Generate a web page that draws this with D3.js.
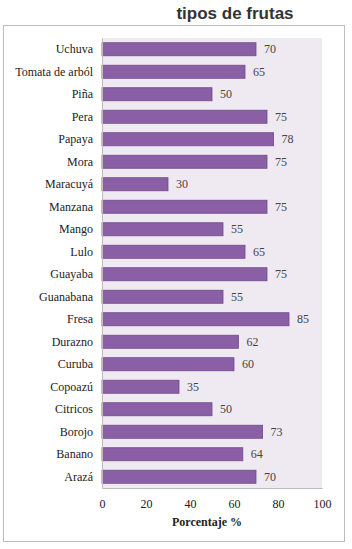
<!DOCTYPE html>
<html>
<head>
<meta charset="utf-8">
<script src="https://cdn.jsdelivr.net/npm/d3@7"></script>
<style>
  body { margin: 0; background: #fff; }
  svg { display: block; }
  svg text { font-family: "Liberation Serif" !important; }
  svg text.titulo { font-family: "Liberation Sans" !important; }
</style>
</head>
<body>
<div id="chart"></div>
<script>
// datos
const frutas = ["Uchuva", "Tomata de arból", "Piña", "Pera", "Papaya", "Mora", "Maracuyá",
  "Manzana", "Mango", "Lulo", "Guayaba", "Guanabana", "Fresa", "Durazno", "Curuba",
  "Copoazú", "Citricos", "Borojo", "Banano", "Arazá"];
const porcentajes = [70, 65, 50, 75, 78, 75, 30, 75, 55, 65, 75, 55, 85, 62, 60, 35, 50, 73, 64, 70];
const ticksX = [0, 20, 40, 60, 80, 100];

const width = 352, height = 549;
const svg = d3.select("#chart").append("svg").attr("width", width).attr("height", height);

// título (recortado arriba en el original)
svg.append("text")
  .attr("class", "titulo")
  .attr("x", 235).attr("y", 19)
  .attr("text-anchor", "middle")
  .style("font-weight", "bold").style("font-size", "17px").style("fill", "#333")
  .text("tipos de frutas");

// marco exterior
svg.append("rect").attr("x", 3.5).attr("y", 25.5).attr("width", 341).attr("height", 516)
  .attr("fill", "none").attr("stroke", "#bdbdbd").attr("stroke-width", 1);

const plot = { left: 102, right: 322, top: 38, bottom: 488 };

const x = d3.scaleLinear().domain([0, 100]).range([plot.left, plot.right]);
const y = d3.scaleBand().domain(frutas).range([plot.top, plot.bottom]).paddingInner(0.42).paddingOuter(0.21);

// fondo del área de trazado
svg.append("rect").attr("x", plot.left).attr("y", plot.top)
  .attr("width", plot.right - plot.left).attr("height", plot.bottom - plot.top)
  .attr("fill", "#efe9f1");

// barras
svg.append("g").selectAll("rect").data(frutas).join("rect")
  .attr("x", x(0))
  .attr("y", d => y(d))
  .attr("width", (d, i) => x(porcentajes[i]) - x(0))
  .attr("height", y.bandwidth())
  .attr("fill", "#8a5fa6")
  .attr("stroke", "#6e4a8a").attr("stroke-width", 0.8);

// valores
svg.append("g").selectAll("text").data(frutas).join("text")
  .attr("x", (d, i) => x(porcentajes[i]) + 8)
  .attr("y", d => y(d) + y.bandwidth() / 2)
  .attr("dy", "0.35em")
  .style("font-size", "12px").style("fill", "#444")
  .text((d, i) => porcentajes[i]);

// eje Y
const yAxis = svg.append("g").attr("transform", `translate(${plot.left},0)`)
  .call(d3.axisLeft(y).tickSize(0).tickPadding(9));
yAxis.select(".domain").attr("stroke", "#bbb");
yAxis.selectAll("text")
  .style("font-size", "12px").style("fill", "#222");

// eje X
const xAxis = svg.append("g").attr("transform", `translate(0,${plot.bottom})`)
  .call(d3.axisBottom(x).tickValues(ticksX).tickSize(0).tickPadding(11));
xAxis.select(".domain").attr("stroke", "#bbb");
xAxis.selectAll("text")
  .style("font-size", "12px").style("fill", "#222");

svg.append("text")
  .attr("x", 207).attr("y", 526)
  .attr("text-anchor", "middle")
  .style("font-weight", "bold").style("font-size", "12px").style("fill", "#222")
  .text("Porcentaje %");
</script>
</body>
</html>
